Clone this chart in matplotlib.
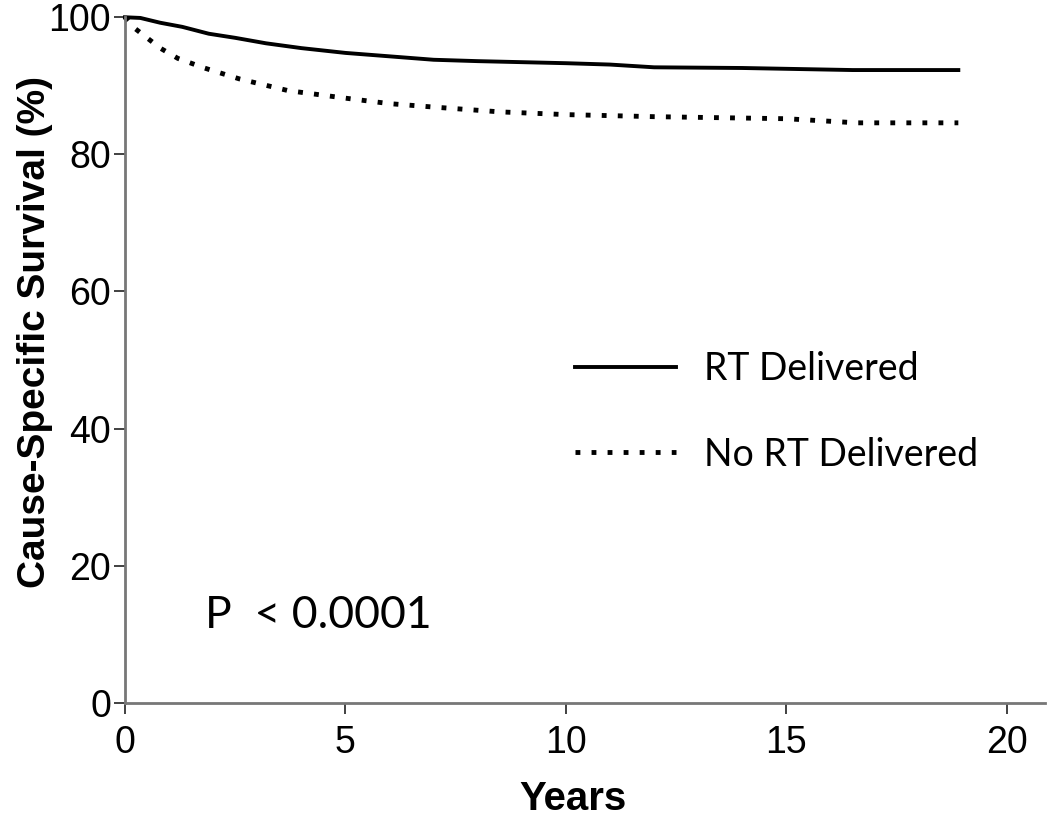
# Kaplan-Meier style cause-specific survival, RT vs no RT
import matplotlib
matplotlib.use('Agg')
import matplotlib.pyplot as plt

years_rt = [0, 0.35, 0.8, 1.3, 1.9, 2.5, 3.2, 4.0, 5.0, 6.0, 7.0, 8.0, 10.0, 11.0, 12.0, 14.0, 16.5, 18.9]
surv_rt = [100, 99.9, 99.2, 98.6, 97.6, 97.0, 96.2, 95.5, 94.8, 94.3, 93.8, 93.6, 93.3, 93.1, 92.7, 92.6, 92.3, 92.3]

years_no = [0, 0.2, 0.5, 0.8, 1.2, 1.8, 2.6, 3.7, 5.0, 6.0, 7.0, 8.5, 10.0, 12.0, 15.0, 16.6, 18.9]
surv_no = [100, 98.5, 97.0, 95.5, 94.0, 92.6, 91.0, 89.3, 88.2, 87.4, 86.9, 86.2, 85.8, 85.5, 85.2, 84.6, 84.6]

x_ticks = [0, 5, 10, 15, 20]
y_ticks = [0, 20, 40, 60, 80, 100]


def main():
    fig = plt.figure(figsize=(10.5, 8.22), dpi=100)
    ax = fig.add_axes([0.119, 0.145, 0.876, 0.834])

    ax.plot(years_rt, surv_rt, color='black', lw=2.8, clip_on=False,
            label='RT Delivered')
    ax.plot(years_no, surv_no, color='black', lw=3.5, clip_on=False,
            linestyle=(0, (1.0, 2.3)), label='No RT Delivered')

    ax.set_xlim(0, 20.86)
    ax.set_ylim(0, 100)
    ax.set_xticks(x_ticks)
    ax.set_yticks(y_ticks)
    ax.tick_params(labelsize=27, length=8, width=1.3, color='#333333',
                   labelfontfamily='Liberation Sans')
    ax.tick_params(axis='x', pad=8)
    ax.tick_params(axis='y', pad=2)
    for s in ['top', 'right']:
        ax.spines[s].set_visible(False)
    for s in ['left', 'bottom']:
        ax.spines[s].set_color('#777777')
        ax.spines[s].set_linewidth(2)

    ax.set_xlabel('Years', fontsize=29, fontweight='bold',
                  family='Liberation Sans')
    ax.xaxis.set_label_coords(0.487, -0.14)
    ax.xaxis.label.set_va('center')
    ax.set_ylabel('Cause-Specific Survival (%)', fontsize=28,
                  fontweight='bold', family='Liberation Sans')
    ax.yaxis.set_label_coords(-0.098, 0.541)
    ax.yaxis.label.set_va('center')

    ax.legend(loc='upper left', bbox_to_anchor=(0.489, 0.513), frameon=False,
              prop={'family': 'Lato', 'size': 27}, handlelength=2.7,
              handletextpad=0.75, labelspacing=1.32, borderpad=0,
              borderaxespad=0)

    ax.text(0.087, 0.128, 'P  < 0.0001', transform=ax.transAxes,
            fontsize=32, family='Lato', va='center')

    fig.savefig('out.png', dpi=100)
    plt.close()


if __name__ == '__main__':
    main()
